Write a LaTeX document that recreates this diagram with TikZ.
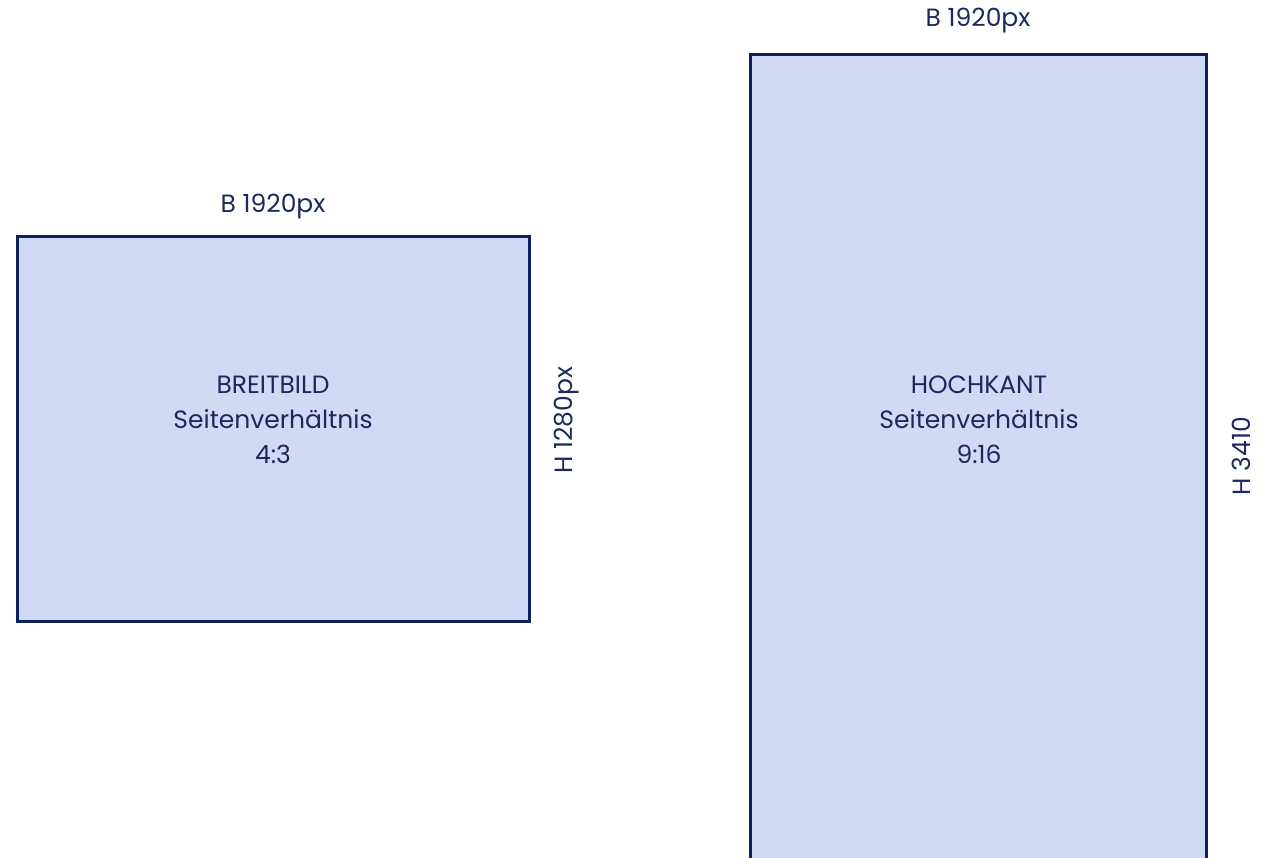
\documentclass[tikz,border=0pt]{standalone}
\usepackage{fontspec}
\setmainfont{Poppins}
\definecolor{fillc}{HTML}{D0DAF5}
\definecolor{linec}{HTML}{0F1F5A}
\definecolor{textc}{HTML}{1B2A5C}
\begin{document}
\begin{tikzpicture}[x=1pt,y=-1pt,
  frame/.style={draw=linec,fill=fillc,line width=3pt},
  lbl/.style={text=textc,font=\fontsize{25}{35}\selectfont,inner sep=0pt,align=center}]
\useasboundingbox (0,0) rectangle (1273,857);
\clip (0,0) rectangle (1273,857);
\draw[frame] (17,236) rectangle (529,621);
\draw[frame] (750,54) rectangle (1206,900);
\node[lbl] (w1) at (273,207) {B 1920px};
\node[lbl] (w2) at (978,21) {B 1920px};
\node[lbl,rotate=90] (h1) at (567,420) {H 1280px};
\node[lbl,rotate=90] (h2) at (1241,456) {H 3410};
\node[lbl] (c1) at (273,420) {BREITBILD\\Seitenverhältnis\\4:3};
\node[lbl] (c2) at (979,420) {HOCHKANT\\Seitenverhältnis\\9:16};
\end{tikzpicture}
\end{document}
